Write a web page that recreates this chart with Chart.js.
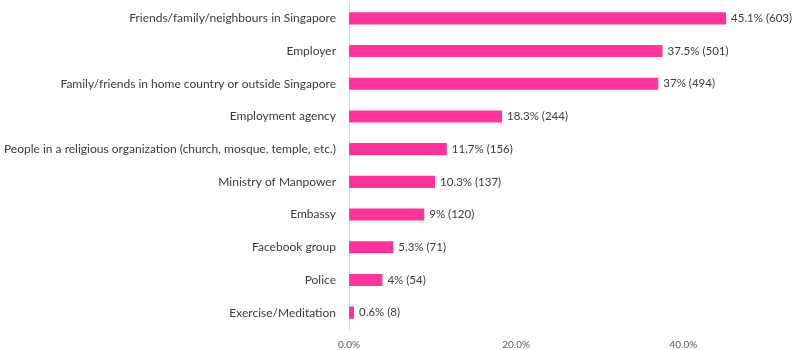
<!DOCTYPE html>
<html><head><meta charset="utf-8">
<script src="https://cdn.jsdelivr.net/npm/chart.js@4"></script>
<style>html,body{margin:0;padding:0;background:#fff}#wrap{width:794px;height:350px}</style>
</head><body><div id="wrap"><canvas id="c" width="794" height="350"></canvas></div>
<script>
const categories = [
  "Friends/family/neighbours in Singapore",
  "Employer",
  "Family/friends in home country or outside Singapore",
  "Employment agency",
  "People in a religious organization (church, mosque, temple, etc.)",
  "Ministry of Manpower",
  "Embassy",
  "Facebook group",
  "Police",
  "Exercise/Meditation"
];
const percents = [45.1, 37.5, 37, 18.3, 11.7, 10.3, 9, 5.3, 4, 0.6];
const counts = [603, 501, 494, 244, 156, 137, 120, 71, 54, 8];
const xTicks = [0, 20, 40];

const FONT = "Lato, 'Open Sans', sans-serif";

const valueLabels = {
  id: 'valueLabels',
  afterDatasetsDraw(chart) {
    const ctx = chart.ctx;
    const meta = chart.getDatasetMeta(0);
    ctx.save();
    ctx.font = "11.5px " + FONT;
    ctx.fillStyle = '#3a3a3a';
    ctx.textBaseline = 'middle';
    ctx.textAlign = 'left';
    meta.data.forEach((bar, i) => {
      ctx.fillText(percents[i] + '% (' + counts[i] + ')', bar.x + 5, bar.y);
    });
    ctx.restore();
  }
};

new Chart(document.getElementById('c'), {
  type: 'bar',
  data: {
    labels: categories,
    datasets: [{
      data: percents,
      backgroundColor: '#FF3399',
      borderWidth: 0,
      barPercentage: 0.37,
      categoryPercentage: 1
    }]
  },
  options: {
    indexAxis: 'y',
    responsive: false,
    animation: false,
    layout: { padding: { top: 2, right: 27, bottom: 0, left: 0 } },
    plugins: { legend: { display: false }, tooltip: { enabled: false } },
    scales: {
      x: {
        min: 0, max: 50,
        grid: { display: false, drawTicks: false },
        border: { display: false },
        afterBuildTicks(scale) { scale.ticks = xTicks.map(v => ({ value: v })); },
        afterFit(scale) { scale.height = 21; scale.paddingTop = 0; scale.paddingBottom = 0; },
        ticks: {
          padding: 10,
          color: '#595959',
          font: { family: FONT, size: 10 },
          callback: v => v.toFixed(1) + '%'
        }
      },
      y: {
        grid: { display: false, drawTicks: false },
        border: { display: true, color: '#d9d9d9', width: 1 },
        afterFit(scale) { scale.width = 349; scale.paddingTop = 0; scale.paddingBottom = 0; },
        ticks: {
          padding: 13,
          color: '#3a3a3a',
          font: { family: FONT, size: 12 }
        }
      }
    }
  },
  plugins: [valueLabels]
});
</script></body></html>
